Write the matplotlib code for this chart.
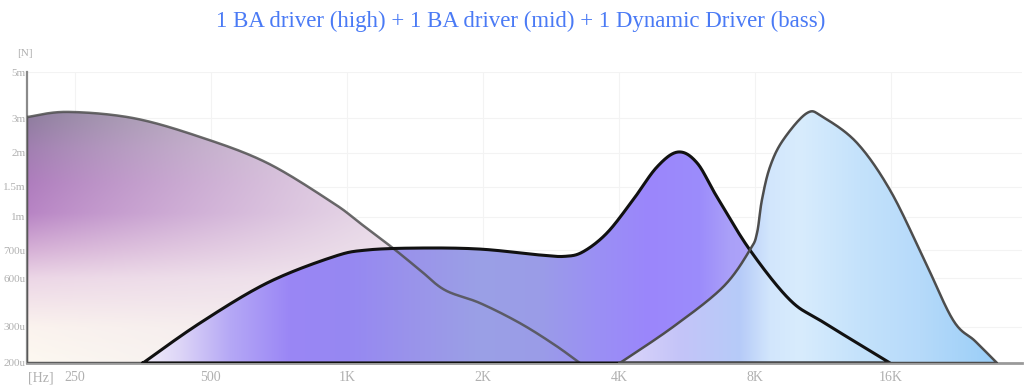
import numpy as np
import matplotlib
matplotlib.use('Agg')
import matplotlib.pyplot as plt
from matplotlib.colors import to_rgb

plt.rcParams['font.family'] = ['Liberation Serif', 'DejaVu Serif']

# frequency response of the three drivers (Hz, N)
bass_freq = [196, 240, 336, 473, 666, 932, 1069, 1264, 1451, 1648, 1970, 2415, 2886, 3278]
bass_level = [3.03e-3, 3.21e-3, 3.0e-3, 2.41e-3, 1.84e-3, 1.21e-3, 937e-6, 715e-6,
              627e-6, 506e-6, 421e-6, 317e-6, 245e-6, 200e-6]

mid_freq = [354, 473, 666, 932, 1108, 1451, 1970, 2674, 3038, 3330, 3763, 4296,
            4854, 5405, 5955, 6594, 7797, 9560, 11310, 15920]
mid_level = [200e-6, 317e-6, 559e-6, 674e-6, 700e-6, 715e-6, 707e-6, 681e-6, 676e-6,
             693e-6, 841e-6, 1.258e-3, 1.776e-3, 2.023e-3, 1.84e-3, 1.31e-3, 700e-6,
             440e-6, 322e-6, 200e-6]

high_freq = [4019, 5267, 6798, 7797, 8084, 8288, 8634, 9228, 10430, 11310, 13450,
             15920, 18830, 21950, 24560, 27460]
high_level = [200e-6, 300e-6, 528e-6, 700e-6, 841e-6, 1.258e-3, 1.776e-3, 2.32e-3,
              3.17e-3, 3.03e-3, 2.25e-3, 1.44e-3, 674e-6, 331e-6, 256e-6, 200e-6]

x_ticks = [250, 500, 1000, 2000, 4000, 8000, 16000]
x_labels = ['250', '500', '1K', '2K', '4K', '8K', '16K']
y_ticks = [200e-6, 300e-6, 600e-6, 700e-6, 1e-3, 1.5e-3, 2e-3, 3e-3, 5e-3]
y_labels = ['200u', '300u', '600u', '700u', '1m', '1.5m', '2m', '3m', '5m']

title = '1 BA driver (high) + 1 BA driver (mid) + 1 Dynamic Driver (bass)'

# the level axis is not uniform: height of every tick above the baseline (px)
y_tick_height = [0, 36, 85, 113, 146, 176, 210, 245, 291]
log_ticks = np.log(y_ticks)
OCTAVE = 136.0  # px per octave on the frequency axis


def y_forward(v):
    v = np.clip(np.asarray(v, dtype=float), 1e-9, None)
    return np.interp(np.log(v), log_ticks, y_tick_height)


def y_inverse(p):
    return np.exp(np.interp(p, y_tick_height, log_ticks))


def smooth(freq, level, n=30):
    # catmull-rom through the read points, done in screen-like units
    p = np.column_stack([np.log2(freq) * OCTAVE, y_forward(level)])
    p = np.vstack([p[0], p, p[-1]])
    out = []
    t = np.linspace(0, 1, n, endpoint=False)[:, None]
    for i in range(1, len(p) - 2):
        p0, p1, p2, p3 = p[i - 1], p[i], p[i + 1], p[i + 2]
        out.append(0.5 * ((2 * p1) + (-p0 + p2) * t + (2 * p0 - 5 * p1 + 4 * p2 - p3) * t ** 2
                          + (-p0 + 3 * p1 - 3 * p2 + p3) * t ** 3))
    out.append(p[-2][None, :])
    out = np.vstack(out)
    return 2 ** (out[:, 0] / OCTAVE), y_inverse(np.clip(out[:, 1], 0, None))


W, H = 995, 291
X0 = 27
xs_px = X0 + (np.arange(W) + 0.5) * 995 / W
hs_px = H - (np.arange(H) + 0.5)


def ramp(pos, colors, at):
    rgb = np.array([to_rgb(c) for c in colors])
    return np.stack([np.interp(at, pos, rgb[:, k]) for k in range(3)], axis=-1)


def hgrad(pos, colors):
    row = ramp(pos, colors, xs_px)
    return np.repeat(row[None, :, :], H, axis=0)


def bass_grad():
    left = ramp([0, 36, 85, 113, 150, 180, 215, 250, 291],
                ['#fdf9f1', '#fbf3ee', '#ecd6e6', '#d6b0d6', '#b783c4', '#ae7cbd',
                 '#a07eb0', '#8c7c9c', '#8a7a9a'], hs_px)
    right = np.array(to_rgb('#f0e8ee'))
    s = np.clip((xs_px - X0) / 430, 0, 1) ** 0.85
    return left[:, None, :] * (1 - s[None, :, None]) + right * s[None, :, None]


fig = plt.figure(figsize=(10.24, 3.89), dpi=100)
ax = fig.add_axes([27 / 1024, 26 / 389, 995 / 1024, 291 / 389])
ax.set_xscale('log', base=2)
ax.set_yscale('function', functions=(y_forward, y_inverse))

ax.set_xticks(x_ticks)
ax.set_xticklabels(x_labels)
ax.set_yticks(y_ticks)
ax.set_yticklabels(y_labels)
ax.minorticks_off()
ax.tick_params(axis='both', length=0, colors='#b0b0b0')
ax.tick_params(axis='x', labelsize=10, pad=6)
ax.tick_params(axis='y', labelsize=8, pad=1)
ax.grid(True, color='#f3f3f3', lw=0.8, zorder=0)
ax.set_axisbelow(True)

for side in ['top', 'right']:
    ax.spines[side].set_visible(False)
ax.spines['left'].set_color('#8a8a8a')
ax.spines['left'].set_linewidth(1.6)
ax.spines['bottom'].set_color('#9a9a9a')
ax.spines['bottom'].set_linewidth(2)

curves = [
    (bass_freq, bass_level, bass_grad(), '#505050', 1.8, 0.85),
    (mid_freq, mid_level,
     hgrad([143, 180, 230, 290, 350, 420, 480, 540, 600, 650, 700, 730, 760, 900],
           ['#f2eefb', '#ddd5f7', '#b5a8f5', '#9a86f5', '#9688f2', '#9a95ea', '#9aa0e6',
            '#9a9ce8', '#9a8ff5', '#9b86fc', '#9c8cfb', '#aaa0f8', '#b0a6f8', '#b0b0f0']),
     '#111111', 2.2, 1.0),
    (high_freq, high_level,
     hgrad([620, 680, 740, 770, 800, 860, 920, 990],
           ['#dcd6fb', '#c4c4f8', '#b6cbf8', '#d2e6fc', '#d8ecfd', '#c4e2fb', '#b6dafa',
            '#9ccff8']),
     '#4d4d4d', 1.8, 1.0),
]

outlines = []
for k, (f, lv, img, ec, lw, a) in enumerate(curves):
    fx, fy = smooth(f, lv)
    fy = np.clip(fy, 200e-6, None)
    px = np.concatenate([fx, [fx[-1], fx[0]]])
    py = np.concatenate([fy, [200e-6, 200e-6]])
    patch = ax.fill(px, py, facecolor='none', edgecolor='none', zorder=2 + k)[0]
    im = ax.imshow(img, extent=(0, 1, 0, 1), transform=ax.transAxes, aspect='auto',
                   origin='upper', zorder=2 + k, interpolation='bilinear')
    im.set_clip_path(patch)
    outlines.append((np.append(px, px[0]), np.append(py, py[0]), ec, lw, a))

for px, py, ec, lw, a in outlines:
    ax.plot(px, py, color=ec, lw=lw, alpha=a, zorder=10, solid_joinstyle='round')

ax.set_xlim(196, 31190)
ax.set_ylim(200e-6, 5e-3)

fig.text(41 / 1024, 1 - 378 / 389, '[Hz]', ha='center', va='center', fontsize=10,
         color='#b0b0b0')
fig.text(25 / 1024, 1 - 53 / 389, '[N]', ha='center', va='center', fontsize=8,
         color='#b0b0b0')
fig.text(521 / 1024, 1 - 21 / 389, title, ha='center', va='center', fontsize=16.5,
         color='#4a7af5')

fig.savefig('out.png', dpi=100)
